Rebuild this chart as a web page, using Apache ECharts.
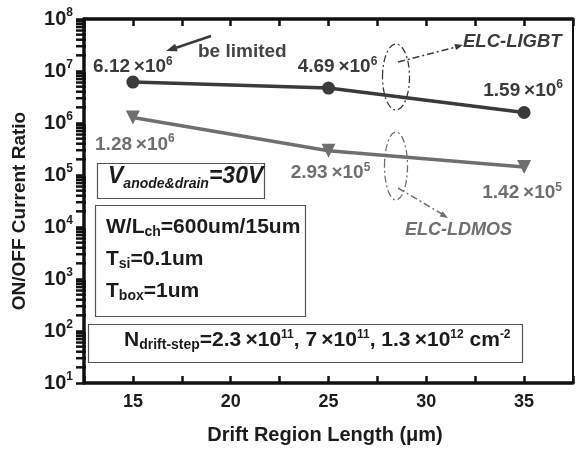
<!DOCTYPE html>
<html><head><meta charset="utf-8">
<script src="https://cdn.jsdelivr.net/npm/echarts@6/dist/echarts.min.js"></script>
<style>html,body{margin:0;padding:0;background:#fff}#c{width:576px;height:450px}</style>
</head><body><div id="c"></div>
<script>
// Drift region length (um) and ON/OFF current ratio for the two devices
const driftLength = [15, 25, 35];
const ligbtRatio = [6.12e6, 4.69e6, 1.59e6];
const ldmosRatio = [1.28e6, 2.93e5, 1.42e5];
const xTickLabels = ['15', '20', '25', '30', '35'];
const yDecades = [1, 2, 3, 4, 5, 6, 7, 8];
const seriesNames = ['ELC-LIGBT', 'ELC-LDMOS'];

const FONT = '"Liberation Sans", Arial, Helvetica, sans-serif';
const DARK = '#3b3b3b';
const GRAY = '#6f6f6f';
const INK = '#1c1c1c';

// log minor ticks 2..9 in every decade, sitting on the left axis
const minorTicks = [];
for (let d = yDecades[0]; d < yDecades[yDecades.length - 1]; d++) {
  for (let k = 2; k <= 9; k++) minorTicks.push([12.5, k * Math.pow(10, d)]);
}

function sciLabel(v) {
  const e = Math.floor(Math.log10(v) + 1e-9);
  const m = (v / Math.pow(10, e)).toFixed(2);
  return '{m|' + m + '\u2009×10}{e|' + e + '}';
}
function labelRich(color) {
  return {
    m: { fontSize: 19, fontWeight: 'bold', fontFamily: FONT, color: color },
    e: { fontSize: 12, fontWeight: 'bold', fontFamily: FONT, color: color, padding: [0, 0, 11, 0] }
  };
}
const ligbtOffsets = [[0, -15], [9, -21], [-1, -22]];
const ldmosOffsets = [[2, 27], [2, 22], [-2, 26]];
function points(ys, offsets) {
  return driftLength.map((x, i) => ({ value: [x, ys[i]], label: { offset: offsets[i] } }));
}

// graphic helpers
function rt(x, y, text, rich, align, rotation) {
  const r = {};
  Object.keys(rich).forEach(k => {
    r[k] = Object.assign({ fontFamily: FONT, fontWeight: 'bold' }, rich[k]);
  });
  return { type: 'text', x: x, y: y, z: 100, rotation: rotation || 0,
    style: { text: text, rich: r, textAlign: align || 'left', textVerticalAlign: 'middle', fill: INK } };
}
function box(x, y, w, h) {
  return { type: 'rect', z: 90, shape: { x: x + 0.5, y: y + 0.5, width: w, height: h },
    style: { fill: 'none', stroke: '#555', lineWidth: 1.2 } };
}
function arrowHead(x1, y1, x2, y2, len, wid, color) {
  const a = Math.atan2(y2 - y1, x2 - x1);
  const bx = x2 - len * Math.cos(a), by = y2 - len * Math.sin(a);
  const px = -Math.sin(a) * wid / 2, py = Math.cos(a) * wid / 2;
  return { type: 'polygon', z: 100, shape: { points: [[x2, y2], [bx + px, by + py], [bx - px, by - py]] },
    style: { fill: color } };
}
const dashDot = [7, 3, 2, 3];

const main = { fontSize: 21, fill: INK };
const sub = { fontSize: 14, fill: INK, padding: [11, 0, 0, 0] };
const sup = { fontSize: 12, fill: INK, padding: [0, 0, 11, 0] };

const graphics = [
  // axis titles
  rt(20, 211, '{a|ON/OFF Current Ratio}', { a: { fontSize: 19, fill: INK } }, 'center', Math.PI / 2),
  rt(325, 435, '{a|Drift Region Length (\u03bcm)}', { a: { fontSize: 20, fill: INK } }, 'center'),

  // condition boxes
  box(97, 163, 167, 35),
  rt(108, 177, '{a|V}{b|anode&drain}{a|=30V}', {
    a: { fontSize: 23, fontStyle: 'italic', fill: INK },
    b: { fontSize: 14, fontStyle: 'italic', fill: INK, padding: [15, 0, 0, 0] }
  }),
  box(95, 205, 210, 111),
  rt(106, 227, '{a|W/L}{s|ch}{a|=600um/15um}', { a: main, s: sub }),
  rt(106, 259, '{a|T}{s|si}{a|=0.1um}', { a: main, s: sub }),
  rt(106, 291, '{a|T}{s|box}{a|=1um}', { a: main, s: sub }),
  box(88, 324, 434, 38),
  rt(124, 340, '{a|N}{s|drift-step}{a|=2.3\u2009×10}{p|11}{a|, 7\u2009×10}{p|11}{a|, 1.3\u2009×10}{p|12}{a| cm}{p|-2}',
    { a: main, s: sub, p: sup }),

  // "be limited" note
  { type: 'line', z: 100, shape: { x1: 211, y1: 36, x2: 174, y2: 48.5 }, style: { stroke: DARK, lineWidth: 2.5 } },
  arrowHead(211, 36, 166, 51, 11, 8, DARK),
  rt(198, 52, '{a|be limited}', { a: { fontSize: 19, fill: '#444' } }),

  // LIGBT group marker
  { type: 'ellipse', z: 100, shape: { cx: 396, cy: 77, rx: 13.5, ry: 33 },
    style: { fill: 'none', stroke: DARK, lineWidth: 1.3, lineDash: dashDot } },
  { type: 'line', z: 100, shape: { x1: 398, y1: 62, x2: 456, y2: 47 },
    style: { stroke: DARK, lineWidth: 1.5, lineDash: dashDot } },
  arrowHead(398, 62, 463, 45, 8, 6, DARK),
  rt(463, 42, '{a|ELC-LIGBT}', { a: { fontSize: 18.5, fontStyle: 'italic', fill: DARK } }),

  // LDMOS group marker
  { type: 'ellipse', z: 100, shape: { cx: 396, cy: 166, rx: 11.5, ry: 34 },
    style: { fill: 'none', stroke: GRAY, lineWidth: 1.3, lineDash: dashDot } },
  { type: 'line', z: 100, shape: { x1: 398, y1: 188, x2: 442, y2: 214 },
    style: { stroke: GRAY, lineWidth: 1.5, lineDash: dashDot } },
  arrowHead(398, 188, 448, 218, 8, 6, GRAY),
  rt(405, 230, '{a|ELC-LDMOS}', { a: { fontSize: 18, fontStyle: 'italic', fill: GRAY } })
];

const chart = echarts.init(document.getElementById('c'), null, { renderer: 'canvas' });
chart.setOption({
  animation: false,
  backgroundColor: '#fff',
  textStyle: { fontFamily: FONT },
  grid: { left: 84, right: 2, top: 19, bottom: 67, containLabel: false },
  xAxis: [{
    type: 'value', min: 12.5, max: 37.5, interval: 2.5,
    axisLine: { lineStyle: { color: '#111', width: 3.5 } },
    axisTick: { inside: true, length: 7, lineStyle: { color: '#111', width: 2.5 } },
    axisLabel: { margin: 10, fontSize: 18, fontWeight: 'bold', color: INK, fontFamily: FONT,
      formatter: v => xTickLabels.includes(String(v)) ? String(v) : '' },
    splitLine: { show: false }
  }, {
    type: 'value', position: 'top', min: 12.5, max: 37.5, interval: 2.5,
    axisLine: { show: true, lineStyle: { color: '#111', width: 3.5 } },
    axisTick: { show: true, inside: true, length: 7, lineStyle: { color: '#111', width: 2.5 } },
    axisLabel: { show: false }, splitLine: { show: false }
  }],
  yAxis: [{
    type: 'log', logBase: 10, min: 10, max: 1e8, splitNumber: 7,
    axisLine: { show: true, lineStyle: { color: '#111', width: 3.5 } },
    axisTick: { show: true, length: 8, lineStyle: { color: '#111', width: 2.5 } },
    axisLabel: { margin: 11, fontFamily: FONT,
      formatter: v => '{b|10}{s|' + Math.round(Math.log10(v)) + '}',
      rich: {
        b: { fontSize: 20, fontWeight: 'bold', color: INK, fontFamily: FONT },
        s: { fontSize: 12, fontWeight: 'bold', color: INK, fontFamily: FONT, padding: [0, 0, 12, 0] }
      } },
    splitLine: { show: false }
  }, {
    type: 'log', logBase: 10, min: 10, max: 1e8, position: 'right',
    axisLine: { show: true, lineStyle: { color: '#111', width: 2 } },
    axisTick: { show: false }, axisLabel: { show: false }, splitLine: { show: false }
  }],
  series: [{
    name: 'minor ticks', type: 'scatter', xAxisIndex: 0, yAxisIndex: 0, clip: false, silent: true,
    data: minorTicks, symbol: 'rect', symbolSize: [10, 2.5], symbolOffset: [-3, 0],
    itemStyle: { color: '#111', opacity: 1 }, z: 20
  }, {
    name: seriesNames[0], type: 'line', data: points(ligbtRatio, ligbtOffsets),
    symbol: 'circle', symbolSize: 13,
    lineStyle: { color: DARK, width: 3.5 }, itemStyle: { color: DARK },
    label: { show: true, position: 'inside', formatter: p => sciLabel(p.value[1]), rich: labelRich(DARK) },
    z: 10
  }, {
    name: seriesNames[1], type: 'line', data: points(ldmosRatio, ldmosOffsets),
    symbol: 'triangle', symbolRotate: 180, symbolSize: 14,
    lineStyle: { color: GRAY, width: 3.5 }, itemStyle: { color: GRAY },
    label: { show: true, position: 'inside', formatter: p => sciLabel(p.value[1]), rich: labelRich(GRAY) },
    z: 9
  }],
  graphic: graphics
});
</script>
</body></html>
